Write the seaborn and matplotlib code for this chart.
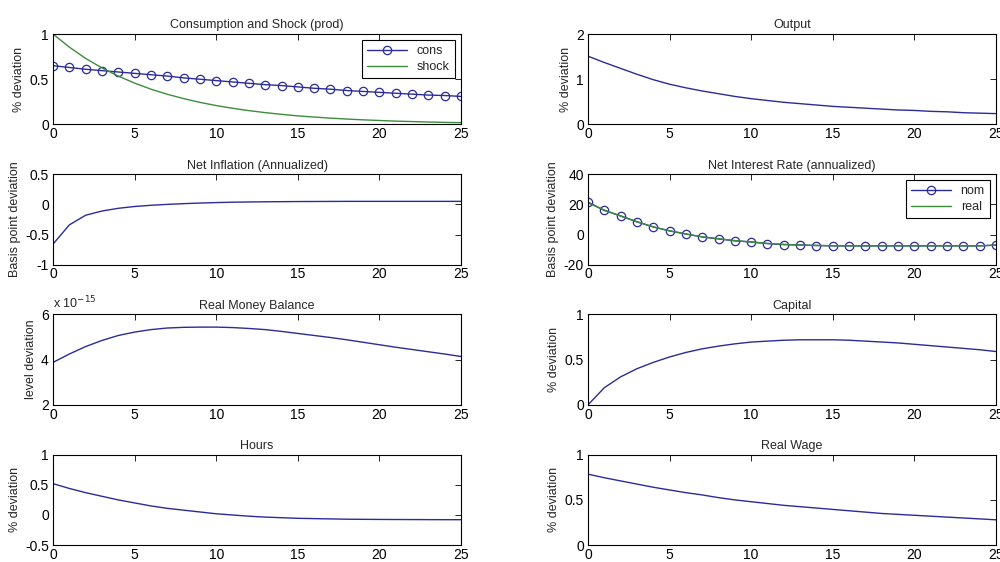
import numpy as np
import pandas as pd
import seaborn as sns
import matplotlib
matplotlib.use("Agg")
import matplotlib.pyplot as plt
from matplotlib.ticker import FuncFormatter

# ---- data (horizon 0..25) ----
t = list(range(26))
cons = [0.65, 0.63, 0.61, 0.595, 0.58, 0.565, 0.55, 0.535, 0.515, 0.50, 0.485, 0.47, 0.455,
        0.44, 0.43, 0.415, 0.40, 0.39, 0.375, 0.365, 0.355, 0.345, 0.335, 0.325, 0.32, 0.31]
shock = [1.0, 0.855, 0.73, 0.625, 0.535, 0.457, 0.39, 0.334, 0.286, 0.244, 0.209, 0.179, 0.153,
         0.131, 0.112, 0.095, 0.082, 0.07, 0.06, 0.051, 0.044, 0.037, 0.032, 0.027, 0.023, 0.02]
output = [1.51, 1.37, 1.24, 1.11, 0.99, 0.89, 0.81, 0.74, 0.68, 0.62, 0.57, 0.53, 0.49,
          0.46, 0.43, 0.40, 0.38, 0.36, 0.34, 0.32, 0.31, 0.29, 0.28, 0.26, 0.25, 0.24]
inflation = [-0.66, -0.34, -0.18, -0.11, -0.065, -0.035, -0.015, 0.0, 0.012, 0.022, 0.03, 0.036,
             0.04, 0.043, 0.045, 0.047, 0.048, 0.049, 0.05, 0.05, 0.05, 0.05, 0.05, 0.05, 0.05, 0.05]
nom = [21.5, 16.0, 12.4, 8.4, 5.1, 2.4, 0.4, -1.6, -2.9, -4.2, -4.9, -6.0, -6.7,
       -6.9, -7.3, -7.5, -7.5, -7.5, -7.5, -7.5, -7.5, -7.5, -7.5, -7.5, -7.5, -7.0]
real = [21.0, 16.3, 12.2, 8.6, 5.0, 2.5, 0.3, -1.5, -2.8, -4.0, -5.0, -5.9, -6.5,
        -7.0, -7.2, -7.4, -7.5, -7.5, -7.5, -7.5, -7.5, -7.5, -7.5, -7.5, -7.5, -7.0]
money = [3.88, 4.25, 4.58, 4.85, 5.07, 5.22, 5.33, 5.40, 5.43, 5.44, 5.44, 5.42, 5.38,
         5.33, 5.25, 5.16, 5.07, 4.98, 4.88, 4.77, 4.66, 4.55, 4.45, 4.35, 4.25, 4.14]  # x 1e-15
capital = [0.0, 0.19, 0.31, 0.40, 0.47, 0.53, 0.58, 0.62, 0.65, 0.675, 0.695, 0.705, 0.715,
           0.72, 0.72, 0.72, 0.715, 0.705, 0.695, 0.685, 0.67, 0.655, 0.64, 0.625, 0.61, 0.59]
hours = [0.52, 0.44, 0.37, 0.31, 0.25, 0.20, 0.15, 0.11, 0.08, 0.05, 0.02, 0.0, -0.02,
         -0.035, -0.045, -0.055, -0.06, -0.065, -0.07, -0.072, -0.074, -0.075, -0.076, -0.077, -0.078, -0.078]
wage = [0.785, 0.745, 0.71, 0.675, 0.64, 0.61, 0.58, 0.555, 0.525, 0.50, 0.48, 0.46, 0.44,
        0.425, 0.41, 0.395, 0.38, 0.365, 0.35, 0.34, 0.33, 0.32, 0.31, 0.30, 0.29, 0.28]

BLUE = "#2b2b9a"
GREEN = "#3c8c3c"

sns.set_style("white")
plt.rcParams["font.family"] = ["Liberation Sans Narrow", "Liberation Sans", "DejaVu Sans"]
plt.rcParams.update({
    "font.size": 9,
    "axes.unicode_minus": False,
    "axes.edgecolor": "black",
    "axes.linewidth": 0.8,
    "xtick.direction": "in",
    "ytick.direction": "in",
    "xtick.top": True,
    "ytick.right": True,
    "xtick.major.size": 4,
    "ytick.major.size": 4,
    "xtick.major.width": 0.6,
    "ytick.major.width": 0.6,
    "xtick.major.pad": 2,
    "ytick.major.pad": 3,
    "xtick.labelsize": 10,
    "ytick.labelsize": 10,
    "xtick.color": "black",
    "ytick.color": "black",
})

fig, axes = plt.subplots(4, 2, figsize=(10, 5.62), dpi=100)
fig.subplots_adjust(left=0.053, right=0.996, bottom=0.030, top=0.9395, wspace=0.311, hspace=0.55)

plain = FuncFormatter(lambda v, p: f"{v:g}")


def style(ax, title, ylabel, ylim, yticks):
    ax.set_xlim(0, 25)
    ax.set_xticks([0, 5, 10, 15, 20, 25])
    ax.set_ylim(*ylim)
    ax.set_yticks(yticks)
    ax.yaxis.set_major_formatter(plain)
    ax.set_title(title, fontsize=9, pad=4)
    ax.set_ylabel(ylabel, fontsize=9, labelpad=3)
    ax.set_xlabel("")
    ax.tick_params(which="both", top=True, right=True, direction="in")


def legend(ax):
    leg = ax.legend(loc="upper right", fancybox=False, framealpha=1, edgecolor="black",
                    fontsize=9, handlelength=3.2, borderaxespad=0.5, labelspacing=0.3)
    leg.get_frame().set_linewidth(0.8)


# Consumption and shock
ax = axes[0, 0]
sns.lineplot(x=t, y=cons, ax=ax, color=BLUE, lw=1, marker="o", markersize=6,
             markerfacecolor="none", markeredgecolor=BLUE, markeredgewidth=0.9, label="cons")
sns.lineplot(x=t, y=shock, ax=ax, color=GREEN, lw=1, label="shock")
style(ax, "Consumption and Shock (prod)", "% deviation", (0, 1), [0, 0.5, 1])
legend(ax)

# Output
ax = axes[0, 1]
sns.lineplot(x=t, y=output, ax=ax, color=BLUE, lw=1)
style(ax, "Output", "% deviation", (0, 2), [0, 1, 2])

# Inflation
ax = axes[1, 0]
sns.lineplot(x=t, y=inflation, ax=ax, color=BLUE, lw=1)
style(ax, "Net Inflation (Annualized)", "Basis point deviation", (-1, 0.5), [-1, -0.5, 0, 0.5])

# Interest rates
ax = axes[1, 1]
sns.lineplot(x=t, y=nom, ax=ax, color=BLUE, lw=1, marker="o", markersize=6,
             markerfacecolor="none", markeredgecolor=BLUE, markeredgewidth=0.9, label="nom")
sns.lineplot(x=t, y=real, ax=ax, color=GREEN, lw=1, label="real")
style(ax, "Net Interest Rate (annualized)", "Basis point deviation", (-20, 40), [-20, 0, 20, 40])
legend(ax)

# Real money balance
ax = axes[2, 0]
sns.lineplot(x=t, y=np.array(money) * 1e-15, ax=ax, color=BLUE, lw=1)
style(ax, "Real Money Balance", "level deviation", (2e-15, 6e-15), [2e-15, 4e-15, 6e-15])
ax.yaxis.set_major_formatter(FuncFormatter(lambda v, p: f"{v * 1e15:g}"))
ax.text(0.0, 1.03, r"x 10$^{-15}$", transform=ax.transAxes, fontsize=9, va="bottom", ha="left")

# Capital
ax = axes[2, 1]
sns.lineplot(x=t, y=capital, ax=ax, color=BLUE, lw=1)
style(ax, "Capital", "% deviation", (0, 1), [0, 0.5, 1])

# Hours
ax = axes[3, 0]
sns.lineplot(x=t, y=hours, ax=ax, color=BLUE, lw=1)
style(ax, "Hours", "% deviation", (-0.5, 1), [-0.5, 0, 0.5, 1])

# Real wage
ax = axes[3, 1]
sns.lineplot(x=t, y=wage, ax=ax, color=BLUE, lw=1)
style(ax, "Real Wage", "% deviation", (0, 1), [0, 0.5, 1])

fig.savefig("out.png", dpi=100)
